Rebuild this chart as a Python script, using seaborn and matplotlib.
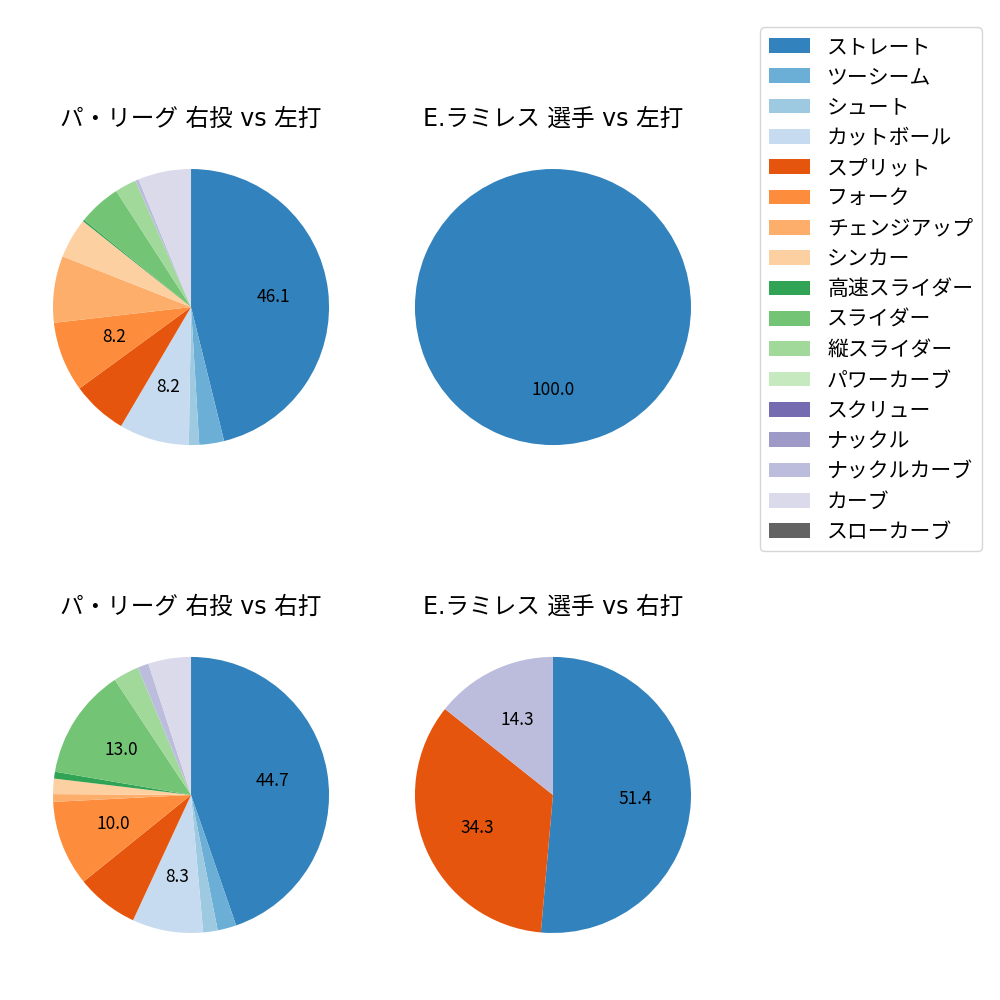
import numpy as np
import matplotlib
matplotlib.use('Agg')
import matplotlib.pyplot as plt
from matplotlib.patches import Patch
import seaborn as sns

plt.rcParams['font.family'] = ['DejaVu Sans', 'Noto Sans CJK JP']
jp_font = ['Noto Sans CJK JP', 'DejaVu Sans']

pitch_types = ['ストレート', 'ツーシーム', 'シュート', 'カットボール', 'スプリット', 'フォーク',
               'チェンジアップ', 'シンカー', '高速スライダー', 'スライダー', '縦スライダー',
               'パワーカーブ', 'スクリュー', 'ナックル', 'ナックルカーブ', 'カーブ', 'スローカーブ']
colors = sns.color_palette('tab20c', 20)[:17]

# share (%) per pitch type, same order as pitch_types
league_vs_left = [46.1, 2.9, 1.2, 8.2, 6.5, 8.2, 7.8, 4.7, 0.2, 5.0, 2.5, 0, 0, 0, 0.4, 6.2, 0]
player_vs_left = [100.0, 0, 0, 0, 0, 0, 0, 0, 0, 0, 0, 0, 0, 0, 0, 0, 0]
league_vs_right = [44.7, 2.2, 1.7, 8.3, 7.3, 10.0, 0.9, 1.8, 0.8, 13.0, 3.0, 0, 0, 0, 1.3, 5.0, 0]
player_vs_right = [51.4, 0, 0, 0, 34.3, 0, 0, 0, 0, 0, 0, 0, 0, 0, 14.3, 0, 0]

titles = ['パ・リーグ 右投 vs 左打', 'E.ラミレス 選手 vs 左打',
          'パ・リーグ 右投 vs 右打', 'E.ラミレス 選手 vs 右打']
series = [league_vs_left, player_vs_left, league_vs_right, player_vs_right]


def pct_label(p):
    return f'{p:.1f}' if p >= 8 else ''


fig, axes = plt.subplots(2, 2, figsize=(10, 10))
fig.subplots_adjust(left=0.0185, right=0.7255, top=0.8655, bottom=0.0325,
                    wspace=0.049, hspace=0.414)

for ax, title, vals in zip(axes.flat, titles, series):
    vals = np.array(vals, dtype=float)
    keep = vals > 0
    ax.pie(vals[keep], colors=[c for c, k in zip(colors, keep) if k],
           startangle=90, counterclock=False, autopct=pct_label,
           wedgeprops={'linewidth': 0},
           textprops={'fontsize': 12.5, 'color': 'black', 'family': jp_font})
    ax.set_title(title, fontsize=17)

handles = [Patch(facecolor=c, label=l) for c, l in zip(colors, pitch_types)]
fig.legend(handles=handles, loc='upper right', bbox_to_anchor=(0.992, 0.983),
           prop={'family': jp_font, 'size': 15}, labelspacing=0.4)

plt.savefig('out.png', dpi=100)
